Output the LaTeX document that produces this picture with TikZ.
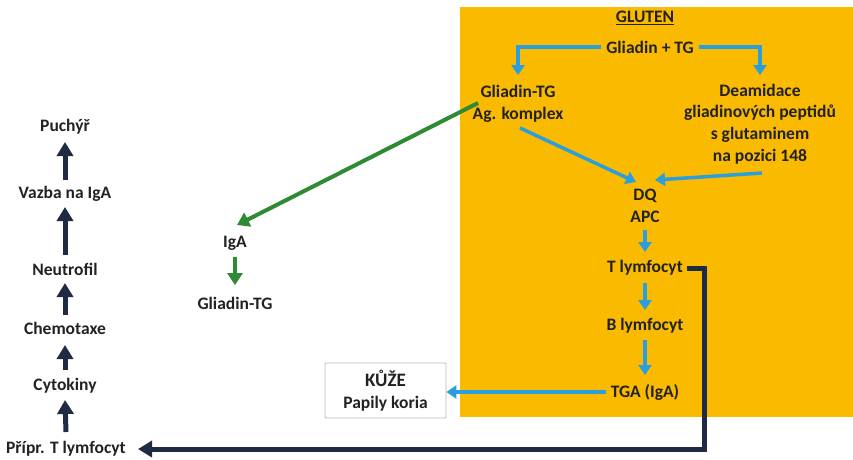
\documentclass[tikz,border=0pt]{standalone}
\usepackage{fontspec}
\setmainfont{Carlito}
\usetikzlibrary{arrows.meta}
\definecolor{gold}{HTML}{F9BA00}
\definecolor{skyb}{HTML}{2A9FDC}
\definecolor{grn}{HTML}{2F8A35}
\definecolor{navy}{HTML}{1E2B42}
\definecolor{txt}{HTML}{222222}
\begin{document}
\begin{tikzpicture}[x=1pt,y=-1pt,
  lbl/.style={font=\bfseries\fontsize{17.5}{21.8}\selectfont, text=txt, align=center, inner sep=1pt},
  barr/.style={draw=skyb, line width=3.5pt, -{Triangle[width=13pt,length=10pt]}},
  garr/.style={draw=grn, line width=4pt, -{Triangle[width=15pt,length=12pt]}},
  narr/.style={draw=navy, line width=5pt, -{Triangle[width=16pt,length=14pt]}}]
\useasboundingbox (0,0) rectangle (853,459);
\fill[white] (0,0) rectangle (853,459);
\fill[gold] (460,7) rectangle (853,417);

\node[lbl] (gluten) at (645,18) {\underline{GLUTEN}};
\node[lbl] (gtg) at (650,47) {Gliadin + TG};
\node[lbl] (agk) at (518,104) {Gliadin-TG\\Ag. komplex};
\node[lbl] (deam) at (760,124) {Deamidace\\gliadinových peptidů\\s glutaminem\\na pozici 148};
\node[lbl] (dq) at (645,206) {DQ\\APC};
\node[lbl] (tl) at (645,268) {T lymfocyt};
\node[lbl] (bl) at (645,326) {B lymfocyt};
\node[lbl] (tga) at (645,392) {TGA (IgA)};
\node[draw=gray!55, line width=0.8pt, fill=white, minimum width=121pt, minimum height=55pt, lbl, rounded corners=1pt] (kuze) at (385.5,390.5) {{\fontsize{19}{22}\selectfont KŮŽE}\\Papily koria};

\node[lbl] (iga) at (235,243) {IgA};
\node[lbl] (gtg2) at (235,303) {Gliadin-TG};

\node[lbl] (puch) at (65,127) {Puchýř};
\node[lbl] (vazba) at (65,194) {Vazba na IgA};
\node[lbl] (neut) at (65,269) {Neutrofil};
\node[lbl] (chem) at (65,328) {Chemotaxe};
\node[lbl] (cyto) at (65,386) {Cytokiny};
\node[lbl] (pripr) at (66,449) {Přípr. T lymfocyt};

% blue arrows
\draw[barr] ([xshift=-4pt]gtg.west) -| ([yshift=29pt]agk.center);
\draw[barr] ([xshift=4pt]gtg.east) -| ([yshift=49pt]deam.center);
\draw[barr] ([xshift=2pt,yshift=-24pt]agk.center) -- ([xshift=-9pt,yshift=24pt]dq.center);
\draw[barr] ([xshift=2pt,yshift=-49pt]deam.center) -- ([xshift=10pt,yshift=26pt]dq.center);
\draw[barr] ([yshift=-24pt]dq.center) -- ([yshift=16pt]tl.center);
\draw[barr] ([yshift=-15pt]tl.center) -- ([yshift=16pt]bl.center);
\draw[barr] ([yshift=-14pt]bl.center) -- ([yshift=17pt]tga.center);
\draw[barr] ([xshift=-4pt]tga.west) -- (kuze.east |- tga.west);

% green
\draw[garr] ([xshift=-40pt,yshift=1pt]agk.center) -- ([xshift=2pt,yshift=18pt]iga.center);
\draw[garr] ([yshift=-14pt]iga.center) -- ([yshift=18pt]gtg2.center);

% navy
\draw[narr] ([xshift=3pt]tl.east) -- ++(17,0) |- ([xshift=11pt]pripr.east);
\draw[narr] ([yshift=17pt]pripr.center) -- ([yshift=-14pt]cyto.center);
\draw[narr] ([yshift=16pt]cyto.center) -- ([yshift=-17pt]chem.center);
\draw[narr] ([yshift=13pt]chem.center) -- ([yshift=-14pt]neut.center);
\draw[narr] ([yshift=14pt]neut.center) -- ([yshift=-13pt]vazba.center);
\draw[narr] ([yshift=14pt]vazba.center) -- ([yshift=-15pt]puch.center);
\end{tikzpicture}
\end{document}
